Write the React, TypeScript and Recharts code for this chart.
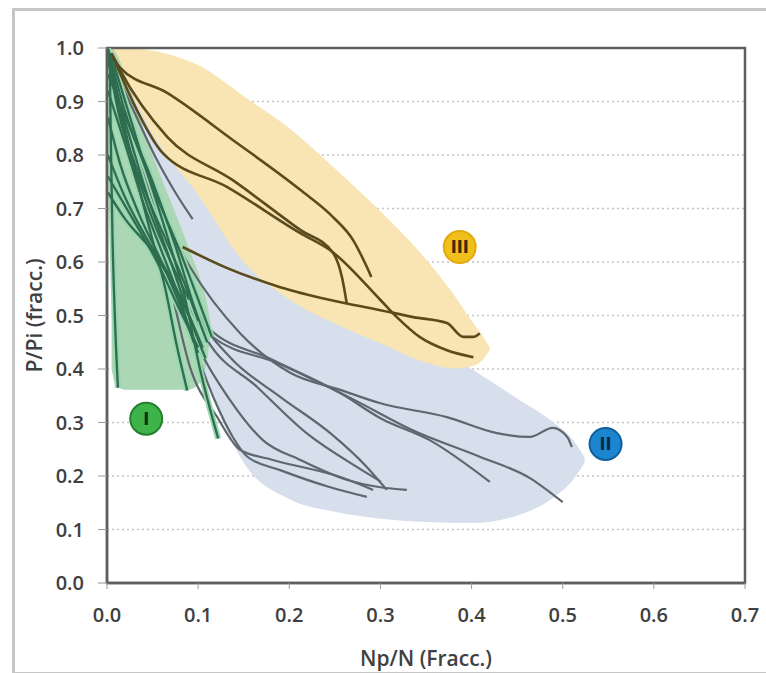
import React from 'react';
import { ComposedChart, Area, Line, XAxis, YAxis, CartesianGrid, ReferenceDot, ReferenceArea } from 'recharts';

const xTicks = [0, 0.1, 0.2, 0.3, 0.4, 0.5, 0.6, 0.7];
const yTicks = [0, 0.1, 0.2, 0.3, 0.4, 0.5, 0.6, 0.7, 0.8, 0.9, 1.0];

const zoneIIIx = [0.003, 0.02, 0.05, 0.1, 0.15, 0.2, 0.25, 0.3, 0.35, 0.38, 0.4, 0.412, 0.42];
const zoneIIIlo = [0.995, 0.94, 0.84, 0.725, 0.6, 0.53, 0.485, 0.448, 0.412, 0.401, 0.405, 0.417, 0.436];
const zoneIIIhi = [1.0, 1.0, 0.995, 0.968, 0.91, 0.85, 0.775, 0.695, 0.605, 0.54, 0.49, 0.462, 0.44];

const zoneIIx = [0.01, 0.05, 0.1, 0.12, 0.15, 0.2, 0.25, 0.3, 0.35, 0.4, 0.45, 0.49, 0.51, 0.524];
const zoneIIlo = [0.92, 0.62, 0.42, 0.33, 0.225, 0.157, 0.133, 0.12, 0.114, 0.112, 0.126, 0.16, 0.19, 0.225];
const zoneIIhi = [0.98, 0.9, 0.8, 0.76, 0.7, 0.63, 0.56, 0.5, 0.45, 0.4, 0.345, 0.3, 0.27, 0.235];

const zoneIx = [0.005, 0.01, 0.02, 0.05, 0.08, 0.091, 0.102, 0.11, 0.114];
const zoneIlo = [0.4, 0.37, 0.361, 0.361, 0.361, 0.362, 0.375, 0.42, 0.47];
const zoneIhi = [1.0, 0.99, 0.95, 0.8, 0.67, 0.62, 0.57, 0.52, 0.48];

// curves of group III (brown)
const curvesIII: number[][][] = [
  [[0.005, 0.99], [0.014, 0.964], [0.066, 0.916], [0.138, 0.828], [0.212, 0.735], [0.248, 0.684], [0.27, 0.641], [0.285, 0.591], [0.29, 0.572]],
  [[0.006, 0.985], [0.014, 0.959], [0.066, 0.834], [0.138, 0.753], [0.212, 0.66], [0.248, 0.617], [0.258, 0.57], [0.263, 0.523]],
  [[0.01, 0.97], [0.029, 0.897], [0.061, 0.804], [0.132, 0.74], [0.212, 0.654], [0.245, 0.622], [0.3, 0.529], [0.318, 0.497], [0.343, 0.46], [0.373, 0.435], [0.402, 0.422]],
  [[0.083, 0.628], [0.13, 0.59], [0.19, 0.553], [0.245, 0.529], [0.3, 0.51], [0.336, 0.497], [0.373, 0.486], [0.391, 0.46], [0.402, 0.46], [0.409, 0.467]],
];

// curves of group II (grey)
const curvesII: number[][][] = [
  [[0.003, 0.98], [0.03, 0.88], [0.055, 0.79], [0.075, 0.73], [0.094, 0.68]],
  [[0.003, 0.978], [0.036, 0.809], [0.069, 0.66], [0.091, 0.591], [0.146, 0.467], [0.201, 0.393], [0.256, 0.361], [0.3, 0.336], [0.373, 0.31], [0.428, 0.28], [0.464, 0.273], [0.489, 0.29], [0.505, 0.273], [0.51, 0.254]],
  [[0.004, 0.959], [0.042, 0.772], [0.08, 0.585], [0.11, 0.479], [0.182, 0.417], [0.256, 0.355], [0.3, 0.308], [0.354, 0.267], [0.42, 0.189]],
  [[0.005, 0.95], [0.047, 0.753], [0.086, 0.566], [0.113, 0.464], [0.19, 0.409], [0.267, 0.346], [0.336, 0.285], [0.409, 0.236], [0.464, 0.196], [0.5, 0.151]],
  [[0.003, 0.987], [0.036, 0.772], [0.069, 0.566], [0.097, 0.435], [0.118, 0.342], [0.138, 0.273], [0.154, 0.236], [0.19, 0.211], [0.245, 0.179], [0.285, 0.161]],
  [[0.005, 0.978], [0.042, 0.753], [0.075, 0.548], [0.102, 0.435], [0.135, 0.342], [0.171, 0.267], [0.212, 0.23], [0.263, 0.193], [0.3, 0.179], [0.329, 0.174]],
  [[0.005, 0.96], [0.04, 0.78], [0.075, 0.6], [0.1, 0.5], [0.135, 0.422], [0.19, 0.348], [0.245, 0.28], [0.285, 0.217], [0.307, 0.174]],
  [[0.004, 0.955], [0.045, 0.74], [0.08, 0.56], [0.11, 0.454], [0.165, 0.366], [0.219, 0.28], [0.274, 0.217], [0.3, 0.19]],
  [[0.003, 0.97], [0.04, 0.75], [0.07, 0.55], [0.091, 0.404], [0.121, 0.31], [0.146, 0.249], [0.182, 0.23], [0.256, 0.198], [0.292, 0.174]],
];

// curves of group I (green)
const curvesI: number[][][] = [
  [[0.003, 0.99], [0.004, 0.85], [0.006, 0.65], [0.009, 0.48], [0.012, 0.365]],
  [[0.002, 0.99], [0.025, 0.81], [0.047, 0.66], [0.064, 0.55], [0.077, 0.44], [0.088, 0.36]],
  [[0.004, 0.99], [0.036, 0.81], [0.064, 0.66], [0.086, 0.53], [0.102, 0.4], [0.122, 0.27]],
  [[0.001, 1.0], [0.02, 0.88], [0.05, 0.75], [0.075, 0.63], [0.095, 0.52], [0.11, 0.45]],
  [[0.001, 0.98], [0.015, 0.87], [0.04, 0.74], [0.065, 0.64], [0.085, 0.56], [0.1, 0.49]],
  [[0.001, 0.95], [0.03, 0.83], [0.055, 0.72], [0.08, 0.62], [0.1, 0.53], [0.115, 0.46]],
  [[0.001, 0.8], [0.02, 0.72], [0.045, 0.64], [0.07, 0.57], [0.09, 0.5], [0.105, 0.44]],
  [[0.001, 0.73], [0.02, 0.68], [0.05, 0.62], [0.075, 0.55], [0.095, 0.48]],
  [[0.001, 0.92], [0.02, 0.82], [0.04, 0.71], [0.06, 0.62], [0.08, 0.53], [0.095, 0.45]],
  [[0.001, 0.99], [0.01, 0.9], [0.03, 0.78], [0.05, 0.68], [0.07, 0.6], [0.09, 0.53]],
  [[0.001, 0.87], [0.015, 0.78], [0.035, 0.69], [0.06, 0.6], [0.08, 0.52], [0.1, 0.43]],
  [[0.002, 0.97], [0.022, 0.85], [0.045, 0.72], [0.07, 0.6], [0.09, 0.5], [0.108, 0.42]],
  [[0.001, 0.76], [0.025, 0.69], [0.055, 0.6], [0.08, 0.51], [0.1, 0.44]],
];

// zone markers: label, x, y
const badgeLabels = ['I', 'II', 'III'];
const badgeX = [0.043, 0.547, 0.387];
const badgeY = [0.307, 0.26, 0.628];
const badgeFill = ['#3db34a', '#1b86cf', '#f1bf1c'];
const badgeStroke = ['#22802f', '#0e5f9e', '#e2a90a'];
const badgeText = ['#10301a', '#0b2a48', '#3a2a05'];

const band = (xs: number[], lo: number[], hi: number[]) => xs.map((x, i) => ({ x, band: [lo[i], hi[i]] }));
const pts = (c: number[][]) => c.map(([x, y]) => ({ x, y }));

const fmt = (v: number) => v.toFixed(1);
const tickStyle = { fontFamily: 'Open Sans', fontSize: 20, fontWeight: 600, fill: '#404040' };
const titleStyle = { fontFamily: 'Open Sans', fontSize: 21, fontWeight: 600, fill: '#404040' };

const YTitle = ({ viewBox }: any) => {
  const x = viewBox.x - 13;
  const y = viewBox.y + viewBox.height / 2;
  return (
    <text x={x} y={y} transform={`rotate(-90 ${x} ${y})`} textAnchor="middle" dominantBaseline="central" style={titleStyle}>
      P/Pi (fracc.)
    </text>
  );
};

const XTitle = ({ viewBox }: any) => (
  <text x={viewBox.x + viewBox.width / 2} y={666} textAnchor="middle" style={titleStyle}>
    Np/N (Fracc.)
  </text>
);

export default function App() {
  return (
    <div style={{ position: 'absolute', left: 0, top: 0, width: 766, height: 673, background: '#fff', overflow: 'hidden' }}>
      <div style={{ position: 'absolute', left: 12, top: 8, width: 770, height: 661, border: '3px solid #c6c6c6' }} />
      <div style={{ position: 'absolute', left: 0, top: 0 }}>
        <ComposedChart width={766} height={673} margin={{ top: 48, right: 21, bottom: 60, left: 47 }}>
          <CartesianGrid horizontal vertical={false} stroke="#c4c4c4" strokeDasharray="2 3" strokeWidth={1.3} />
          <XAxis type="number" dataKey="x" domain={[0, 0.7]} ticks={xTicks} tickFormatter={fmt} allowDataOverflow
            height={30} tickSize={6} tickMargin={19} tick={tickStyle} stroke="#5f5f5f" strokeWidth={2.5}
            tickLine={{ stroke: '#9a9a9a', strokeWidth: 1 }} label={<XTitle />} />
          <YAxis type="number" domain={[0, 1]} ticks={yTicks} tickFormatter={fmt} allowDataOverflow
            width={60} tickSize={9} tickMargin={14} tick={tickStyle} stroke="#5f5f5f" strokeWidth={2.5}
            tickLine={{ stroke: '#9a9a9a', strokeWidth: 1 }} label={<YTitle />} />

          <Area data={band(zoneIIx, zoneIIlo, zoneIIhi)} dataKey="band" type="monotone" fill="#d6dfeb" fillOpacity={1}
            stroke="none" isAnimationActive={false} dot={false} activeDot={false} />
          <Area data={band(zoneIIIx, zoneIIIlo, zoneIIIhi)} dataKey="band" type="monotone" fill="#f9e5b4" fillOpacity={1}
            stroke="none" isAnimationActive={false} dot={false} activeDot={false} />
          <Area data={band(zoneIx, zoneIlo, zoneIhi)} dataKey="band" type="monotone" fill="#abd7b5" fillOpacity={1}
            stroke="none" isAnimationActive={false} dot={false} activeDot={false} />

          {curvesII.map((c, i) => (
            <Line key={'g' + i} data={pts(c)} dataKey="y" type="monotone" stroke="#5d6770" strokeWidth={2.2}
              dot={false} activeDot={false} isAnimationActive={false} />
          ))}
          {curvesI.map((c, i) => (
            <Line key={'lh' + i} data={pts(c)} dataKey="y" type="monotone" stroke="#98d6b0" strokeWidth={6}
              dot={false} activeDot={false} isAnimationActive={false} />
          ))}
          {curvesI.map((c, i) => (
            <Line key={'l' + i} data={pts(c)} dataKey="y" type="monotone" stroke="#2e6d4f" strokeWidth={2.3}
              dot={false} activeDot={false} isAnimationActive={false} />
          ))}
          {curvesIII.map((c, i) => (
            <Line key={'b' + i} data={pts(c)} dataKey="y" type="monotone" stroke="#5a4a1c" strokeWidth={2.6}
              dot={false} activeDot={false} isAnimationActive={false} />
          ))}

          <ReferenceArea x1={0} x2={0.7} y1={0} y2={1} fill="none" stroke="#5f5f5f" strokeWidth={2.5} ifOverflow="visible" />

          {badgeLabels.map((t, i) => (
            <ReferenceDot key={t} x={badgeX[i]} y={badgeY[i]} r={16} fill={badgeFill[i]} stroke={badgeStroke[i]} strokeWidth={2}
              label={{ value: t, position: 'center', fill: badgeText[i], fontSize: 18, fontWeight: 700, fontFamily: 'DejaVu Sans Condensed' }} />
          ))}
        </ComposedChart>
      </div>
    </div>
  );
}
